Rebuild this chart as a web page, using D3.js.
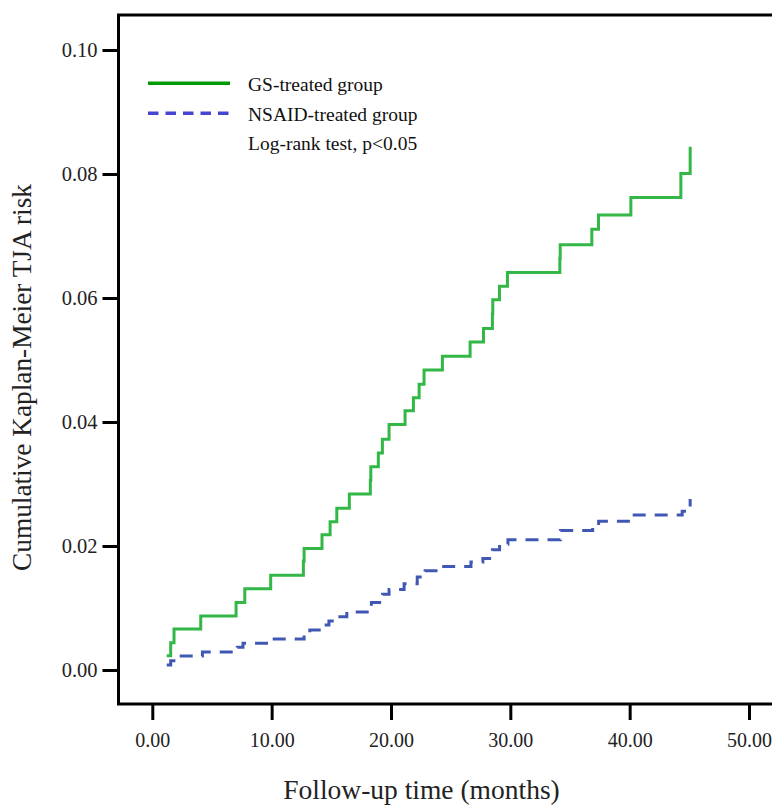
<!DOCTYPE html>
<html>
<head>
<meta charset="utf-8">
<script src="https://cdn.jsdelivr.net/npm/d3@7"></script>
<style>
  html, body { margin: 0; padding: 0; background: #fff; }
  svg { display: block; font-family: "Liberation Serif", "DejaVu Serif", serif; }
</style>
</head>
<body>
<div id="chart"></div>
<script>
// GS-treated group, step points (months, cumulative risk)
const gsTime = [1.21, 1.54, 1.82, 4.06, 7.02, 7.75, 9.92, 12.66, 12.72, 14.22, 14.9, 15.46, 16.51,
  18.27, 18.31, 18.94, 19.28, 19.84, 21.18, 21.88, 22.36, 22.77, 24.31, 26.63, 27.75, 28.5, 28.53,
  29.09, 29.76, 34.15, 34.18, 36.83, 37.39, 40.1, 44.29, 45.07];
const gsRisk = [0.0023, 0.0044, 0.0066, 0.0087, 0.0109, 0.0131, 0.0153, 0.0176, 0.0196, 0.0218, 0.0239, 0.0261, 0.0284,
  0.0306, 0.0328, 0.0350, 0.0372, 0.0396, 0.0418, 0.0439, 0.0461, 0.0484, 0.0506, 0.0529, 0.0551, 0.0574, 0.0597,
  0.0619, 0.0641, 0.0664, 0.0686, 0.0711, 0.0734, 0.0762, 0.0801, 0.0844];

// NSAID-treated group
const nsTime = [1.21, 1.54, 2.0, 4.2, 7.12, 7.6, 9.9, 12.72, 13.2, 14.3, 14.8, 15.46, 16.3, 18.36,
  19.3, 19.84, 21.1, 22.2, 22.86, 24.26, 26.7, 27.7, 28.5, 29.1, 29.8, 34.2, 36.9, 37.4, 40.1, 44.4, 45.07];
const nsRisk = [0.0008, 0.0015, 0.00226, 0.0029, 0.00366, 0.0043, 0.0050, 0.0058, 0.00645, 0.00726, 0.0079, 0.0086, 0.00935, 0.0109,
  0.0122, 0.0130, 0.0139, 0.0150, 0.0160, 0.0167, 0.0174, 0.0180, 0.0194, 0.0203, 0.0210, 0.0225, 0.0230, 0.0240, 0.0250, 0.0256, 0.0276];

const xTicks = [0, 10, 20, 30, 40, 50];
const yTicks = [0, 0.02, 0.04, 0.06, 0.08, 0.10];

const legendItems = ['GS-treated group', 'NSAID-treated group'];
const legendNote = 'Log-rank test, p<0.05';

const width = 772;
const height = 805;
const frame = { left: 118.5, top: 15, bottom: 704, right: 800 };

const svg = d3.select('#chart').append('svg')
  .attr('width', width)
  .attr('height', height);

const x = d3.scaleLinear().domain([0, 50]).range([152.3, 749]);
const y = d3.scaleLinear().domain([0, 0.10]).range([670, 50]);

// frame box (right edge runs off the picture)
svg.append('rect')
  .attr('x', frame.left)
  .attr('y', frame.top)
  .attr('width', frame.right - frame.left)
  .attr('height', frame.bottom - frame.top)
  .attr('fill', 'none')
  .attr('stroke', '#000')
  .attr('stroke-width', 3);

// y axis
const yAxis = svg.append('g')
  .attr('transform', `translate(${frame.left},0)`)
  .call(d3.axisLeft(y).tickValues(yTicks).tickFormat(d3.format('.2f')).tickSize(16).tickPadding(5));
yAxis.select('.domain').remove();
yAxis.selectAll('line').attr('stroke', '#000').attr('stroke-width', 3);
yAxis.selectAll('text')
  .attr('fill', '#222')
  .attr('dy', '0.34em')
  .style('font-size', '20.5px')
  .style('font-family', '"Liberation Serif", serif');

// x axis
const xAxis = svg.append('g')
  .attr('transform', `translate(0,${frame.bottom})`)
  .call(d3.axisBottom(x).tickValues(xTicks).tickFormat(d3.format('.2f')).tickSize(16));
xAxis.select('.domain').remove();
xAxis.selectAll('line').attr('stroke', '#000').attr('stroke-width', 3);
xAxis.selectAll('text')
  .attr('fill', '#222')
  .attr('y', 42.5)
  .attr('dy', 0)
  .style('font-size', '20px')
  .style('font-family', '"Liberation Serif", serif');

// axis titles
svg.append('text')
  .attr('x', 421.5)
  .attr('y', 799)
  .attr('text-anchor', 'middle')
  .attr('fill', '#222')
  .style('font-size', '27.5px')
  .text('Follow-up time (months)');

svg.append('text')
  .attr('transform', 'translate(31,377.5) rotate(-90)')
  .attr('text-anchor', 'middle')
  .attr('fill', '#222')
  .style('font-size', '27.3px')
  .text('Cumulative Kaplan-Meier TJA risk');

// curves
const step = d3.line()
  .x(d => x(d[0]))
  .y(d => y(d[1]))
  .curve(d3.curveStepAfter);

const gsPts = gsTime.map((t, i) => [t, gsRisk[i]]);
const nsPts = nsTime.map((t, i) => [t, nsRisk[i]]);

svg.append('path')
  .datum(nsPts)
  .attr('d', step)
  .attr('fill', 'none')
  .attr('stroke', '#4058b4')
  .attr('stroke-width', 3)
  .attr('stroke-dasharray', '13,9');

svg.append('path')
  .datum(gsPts)
  .attr('d', step)
  .attr('fill', 'none')
  .attr('stroke', '#33b847')
  .attr('stroke-width', 3);

// legend
const legendY = [83.3, 113.3];
const legendColors = ['#009a00', '#4646d2'];
const legendDash = [null, '10.5,7'];

legendItems.forEach((label, i) => {
  svg.append('line')
    .attr('x1', 148)
    .attr('x2', 230)
    .attr('y1', legendY[i])
    .attr('y2', legendY[i])
    .attr('stroke', legendColors[i])
    .attr('stroke-width', 3.5)
    .attr('stroke-dasharray', legendDash[i]);
  svg.append('text')
    .attr('x', 248)
    .attr('y', legendY[i] + 7.3)
    .attr('fill', '#111')
    .style('font-size', '19.5px')
    .text(label);
});

svg.append('text')
  .attr('x', 248)
  .attr('y', 149.5)
  .attr('fill', '#111')
  .style('font-size', '19.5px')
  .text(legendNote);
</script>
</body>
</html>
